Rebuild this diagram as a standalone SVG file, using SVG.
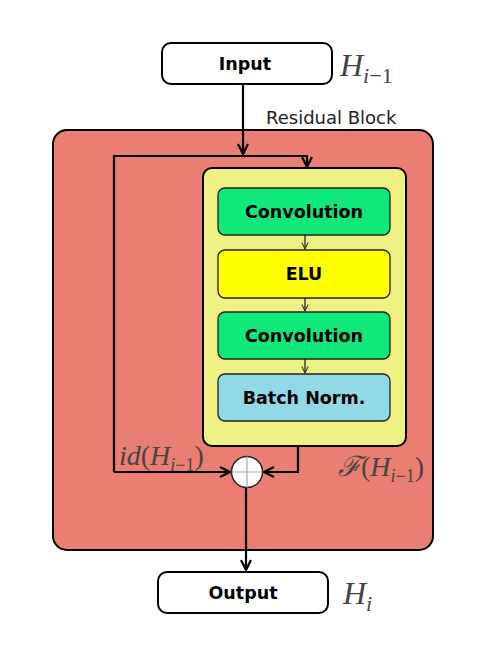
<svg xmlns="http://www.w3.org/2000/svg" width="488" height="652" viewBox="0 0 488 652">
<defs>
<marker id="arr" viewBox="0 0 12 12" refX="11" refY="6" markerWidth="12" markerHeight="12" markerUnits="userSpaceOnUse" orient="auto">
<path d="M1,1 L11,6 L1,11" fill="none" stroke="#000" stroke-width="2.2"/>
</marker>
<marker id="arrs" viewBox="0 0 10 10" refX="9" refY="5" markerWidth="8" markerHeight="8" markerUnits="userSpaceOnUse" orient="auto">
<path d="M1,1 L9,5 L1,9" fill="none" stroke="#333" stroke-width="1.3"/>
</marker>
</defs>
<style>
.lbl{font-family:"DejaVu Sans",sans-serif;font-weight:bold;font-size:17.5px;fill:#000;text-anchor:middle}
.math{font-family:"Liberation Serif",serif;font-style:italic;fill:#444}
.sub{font-family:"Liberation Serif",serif;fill:#444}
.io{fill:#fff;stroke:#000;stroke-width:2}
.op{stroke:#222;stroke-width:1.3}
.ln{fill:none;stroke:#000;stroke-width:2.2}
</style>
<rect width="488" height="652" fill="#fff"/>
<g id="block">
<rect x="53" y="130" width="380" height="420" rx="14" fill="#eb7e72" stroke="#000" stroke-width="2"/>
<text x="266" y="124" font-family="DejaVu Sans,sans-serif" font-size="18" fill="#222">Residual Block</text>
</g>
<g id="inner">
<rect x="203" y="168" width="203" height="278" rx="9" fill="#f0f184" stroke="#000" stroke-width="2"/>
</g>
<g id="input">
<rect class="io" x="162" y="43" width="170" height="41" rx="9"/>
<text class="lbl" x="245" y="70">Input</text>
<text class="math" x="340" y="76" font-size="32">H<tspan font-size="22" dy="7">i</tspan><tspan class="sub" font-style="normal" font-size="22">−1</tspan></text>
</g>
<g id="conv1">
<rect class="op" x="218" y="188" width="172" height="47" rx="7" fill="#11e87a"/>
<text class="lbl" x="304" y="218">Convolution</text>
</g>
<g id="elu">
<rect class="op" x="218" y="250" width="172" height="48" rx="7" fill="#ffff00"/>
<text class="lbl" x="304" y="280">ELU</text>
</g>
<g id="conv2">
<rect class="op" x="218" y="312" width="172" height="47" rx="7" fill="#11e87a"/>
<text class="lbl" x="304" y="342">Convolution</text>
</g>
<g id="bn">
<rect class="op" x="218" y="374" width="172" height="47" rx="7" fill="#92d9e8"/>
<text class="lbl" x="304" y="404">Batch Norm.</text>
</g>
<g id="sum">
<circle cx="247" cy="472" r="15.5" fill="#fff" stroke="#222" stroke-width="1.5"/>
<path d="M231.5,472 H262.5 M247,456.5 V487.5" stroke="#aaa" stroke-width="1.2"/>
</g>
<g id="output">
<rect class="io" x="158" y="572" width="170" height="41" rx="9"/>
<text class="lbl" x="243" y="599">Output</text>
<text class="math" x="343" y="604" font-size="32">H<tspan font-size="22" dy="7">i</tspan></text>
</g>
<g id="labels">
<text class="math" x="119" y="465" font-size="28">id<tspan class="sub" font-style="normal">(</tspan>H<tspan font-size="18" dy="6">i</tspan><tspan class="sub" font-style="normal" font-size="18">−1</tspan><tspan class="sub" font-style="normal" dy="-6">)</tspan></text>
<text class="math" x="338" y="476" font-size="28">ℱ<tspan class="sub" font-style="normal">(</tspan>H<tspan font-size="18" dy="6">i</tspan><tspan class="sub" font-style="normal" font-size="18">−1</tspan><tspan class="sub" font-style="normal" dy="-6">)</tspan></text>
</g>
<g id="connectors">
<path class="ln" d="M243,84 V154" marker-end="url(#arr)"/>
<path class="ln" d="M114,472 V156 H307 V167" marker-end="url(#arr)"/>
<path class="ln" d="M114,472 H230" marker-end="url(#arr)"/>
<path class="ln" d="M298,446 V472 H264" marker-end="url(#arr)"/>
<path class="ln" d="M246,488 V570" marker-end="url(#arr)"/>
<path class="op" fill="none" d="M305,235 V249" marker-end="url(#arrs)"/>
<path class="op" fill="none" d="M305,298 V311" marker-end="url(#arrs)"/>
<path class="op" fill="none" d="M305,359 V373" marker-end="url(#arrs)"/>
</g>
</svg>
